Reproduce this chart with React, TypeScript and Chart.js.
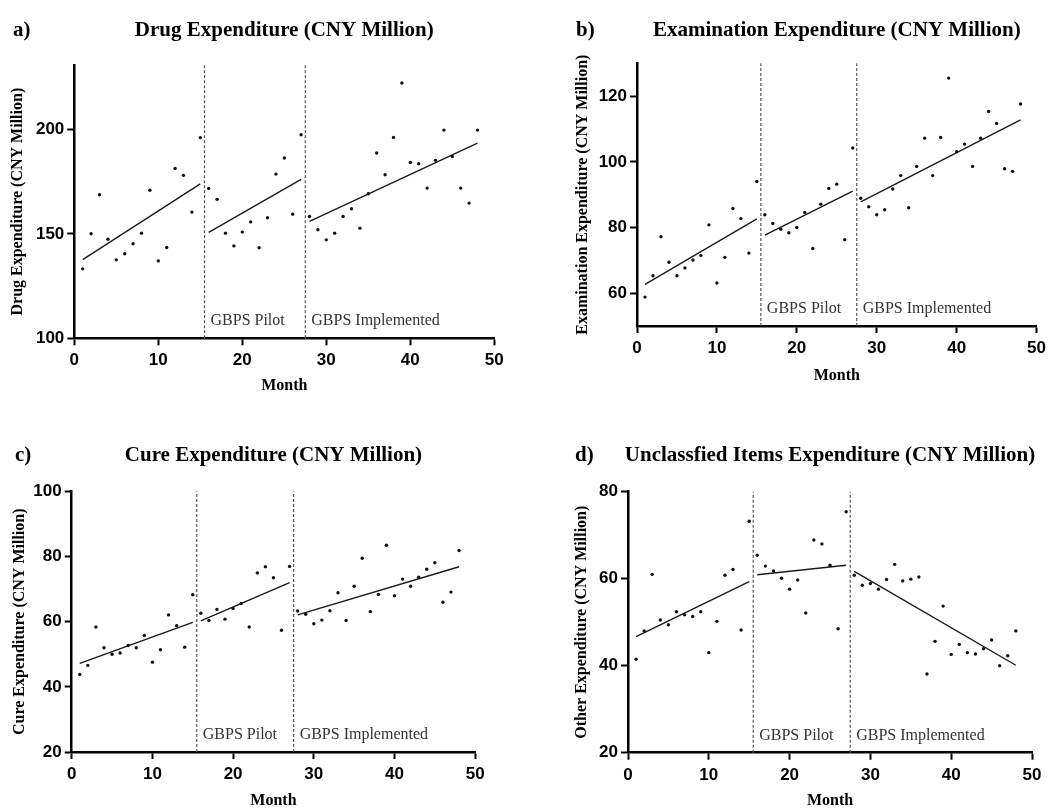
import React, { useEffect, useRef } from "react";
import { Chart, registerables } from "chart.js";

Chart.register(...registerables);

// ---------- data ----------
const months = [
  1, 2, 3, 4, 5, 6, 7, 8, 9, 10, 11, 12, 13, 14, 15, 16, 17, 18, 19, 20, 21, 22, 23, 24,
  25, 26, 27, 28, 29, 30, 31, 32, 33, 34, 35, 36, 37, 38, 39, 40, 41, 42, 43, 44, 45, 46, 47, 48,
];
const xTicks = [0, 10, 20, 30, 40, 50];
const interruptions = [15.5, 27.5];
const phaseLabels = ["GBPS Pilot", "GBPS Implemented"];
const segStartMonth = [1, 16, 28];
const segEndMonth = [15, 27, 48];

const drugValues = [
  133.3, 150.1, 168.8, 147.5, 137.6, 140.5, 145.3, 150.4, 171.0, 137.1, 143.5, 181.4, 178.1, 160.5, 196.2,
  171.8, 166.6, 150.4, 144.3, 150.9, 155.8, 143.4, 157.8, 178.7, 186.4, 159.5, 197.6,
  158.4, 152.0, 147.2, 150.4, 158.4, 162.1, 152.8, 169.3, 188.8, 178.4, 196.3, 222.4, 184.3, 183.7, 172.0,
  185.3, 199.8, 187.2, 172.0, 164.8, 199.8,
];
const drugFitStart = [137.7, 150.8, 156.0];
const drugFitEnd = [174.0, 176.2, 193.6];
const drugTicks = [100, 150, 200];

const examValues = [
  58.8, 65.3, 77.2, 69.4, 65.3, 67.7, 70.1, 71.5, 80.8, 63.1, 70.9, 85.8, 82.7, 72.2, 94.0,
  83.9, 81.2, 79.5, 78.4, 80.0, 84.6, 73.6, 87.1, 91.9, 93.2, 76.3, 104.2,
  88.9, 86.3, 83.9, 85.4, 91.7, 95.8, 86.0, 98.6, 107.2, 95.8, 107.4, 125.5, 103.1, 105.4, 98.6,
  107.2, 115.3, 111.7, 97.9, 97.1, 117.6,
];
const examFitStart = [62.7, 77.7, 87.8];
const examFitEnd = [82.6, 91.1, 112.8];
const examTicks = [60, 80, 100, 120];

const cureValues = [
  43.8, 46.6, 58.4, 52.0, 50.0, 50.4, 52.7, 52.0, 55.8, 47.6, 51.4, 62.1, 58.8, 52.2, 68.3,
  62.6, 60.4, 63.8, 60.8, 64.1, 65.6, 58.4, 75.0, 76.9, 73.5, 57.4, 77.0,
  63.3, 62.3, 59.4, 60.5, 63.4, 68.9, 60.4, 70.9, 79.5, 63.1, 68.4, 83.5, 68.0, 73.1, 70.9,
  73.7, 76.1, 78.1, 66.0, 69.1, 81.9,
];
const cureFitStart = [47.2, 60.3, 62.1];
const cureFitEnd = [59.8, 72.0, 76.9];
const cureTicks = [20, 40, 60, 80, 100];

const otherValues = [
  41.5, 48.0, 61.0, 50.5, 49.4, 52.4, 51.7, 51.3, 52.4, 43.0, 50.2, 60.8, 62.1, 48.2, 73.2,
  65.4, 62.9, 61.8, 60.1, 57.6, 59.7, 52.1, 68.9, 68.0, 63.1, 48.5, 75.4,
  60.8, 58.5, 58.9, 57.6, 59.8, 63.3, 59.5, 59.9, 60.4, 38.1, 45.6, 53.7, 42.6, 44.9, 43.0,
  42.7, 43.9, 45.9, 40.0, 42.3, 48.0,
];
const otherFitStart = [46.7, 60.9, 61.7];
const otherFitEnd = [59.3, 63.1, 40.1];
const otherTicks = [20, 40, 60, 80];

// ---------- layout ----------
type Panel = {
  letter: string;
  title: string;
  yTitle: string;
  values: number[];
  fitStart: number[];
  fitEnd: number[];
  yTicks: number[];
  yMin: number;
  yMax: number;
  box: { left: number; top: number; width: number; height: number };
  area: { left: number; top: number; right: number; bottom: number };
  yTitleX: number;
  monthY: number;
  titleBaseline: number;
  letterX: number;
};

const panels: Panel[] = [
  {
    letter: "a)",
    title: "Drug Expenditure (CNY Million)",
    yTitle: "Drug Expenditure (CNY Million)",
    values: drugValues,
    fitStart: drugFitStart,
    fitEnd: drugFitEnd,
    yTicks: drugTicks,
    yMin: 100,
    yMax: 231,
    box: { left: 0, top: 0, width: 525, height: 400 },
    area: { left: 74.3, top: 65, right: 494.3, bottom: 338.3 },
    yTitleX: 18,
    monthY: 386,
    titleBaseline: 36,
    letterX: 13,
  },
  {
    letter: "b)",
    title: "Examination Expenditure (CNY Million)",
    yTitle: "Examination Expenditure (CNY Million)",
    values: examValues,
    fitStart: examFitStart,
    fitEnd: examFitEnd,
    yTicks: examTicks,
    yMin: 50,
    yMax: 130,
    box: { left: 525, top: 0, width: 526, height: 400 },
    area: { left: 637, top: 63.3, right: 1041, bottom: 326 },
    yTitleX: 583,
    monthY: 376,
    titleBaseline: 36,
    letterX: 576,
  },
  {
    letter: "c)",
    title: "Cure Expenditure (CNY Million)",
    yTitle: "Cure Expenditure (CNY Million)",
    values: cureValues,
    fitStart: cureFitStart,
    fitEnd: cureFitEnd,
    yTicks: cureTicks,
    yMin: 20,
    yMax: 100,
    box: { left: 0, top: 400, width: 525, height: 409 },
    area: { left: 71.7, top: 491.5, right: 475.2, bottom: 752 },
    yTitleX: 20,
    monthY: 801,
    titleBaseline: 461,
    letterX: 15,
  },
  {
    letter: "d)",
    title: "Unclassfied Items Expenditure (CNY Million)",
    yTitle: "Other Expenditure (CNY Million)",
    values: otherValues,
    fitStart: otherFitStart,
    fitEnd: otherFitEnd,
    yTicks: otherTicks,
    yMin: 20,
    yMax: 80,
    box: { left: 525, top: 400, width: 526, height: 409 },
    area: { left: 628, top: 491.7, right: 1032, bottom: 752.7 },
    yTitleX: 581.7,
    monthY: 801,
    titleBaseline: 461,
    letterX: 575,
  },
];

const TITLE_LINE = 16; // axis title font size with lineHeight 1

const panelDecor = {
  id: "panelDecor",
  afterDraw(chart: any, _args: any, opts: any) {
    const ctx = chart.ctx as CanvasRenderingContext2D;
    const xs = chart.scales.x;
    const area = chart.chartArea;
    ctx.save();
    ctx.font = '16px "Liberation Serif", "Times New Roman", serif';
    ctx.fillStyle = "#333";
    ctx.textAlign = "left";
    ctx.textBaseline = "alphabetic";
    interruptions.forEach((m, i) => {
      ctx.fillText(phaseLabels[i], xs.getPixelForValue(m) + 6, area.bottom - 13);
    });
    ctx.fillStyle = "#000";
    ctx.font = 'bold 21px "Liberation Serif", "Times New Roman", serif';
    ctx.textAlign = "center";
    ctx.fillText(opts.title, (area.left + area.right) / 2, opts.baseline);
    ctx.textAlign = "left";
    ctx.fillText(opts.letter, opts.letterX, opts.baseline);
    ctx.restore();
  },
};

function PanelChart({ p }: { p: Panel }) {
  const ref = useRef<HTMLCanvasElement | null>(null);

  useEffect(() => {
    if (!ref.current) return;
    const b = p.box;
    const padLeft = Math.max(0, p.yTitleX - b.left - TITLE_LINE / 2);
    const yAxisWidth = p.area.left - b.left - padLeft;
    const padTop = p.area.top - b.top;
    const padRight = b.left + b.width - p.area.right;
    const padBottom = Math.max(0, b.top + b.height - p.monthY - TITLE_LINE / 2);
    const xAxisHeight = b.top + b.height - padBottom - p.area.bottom;

    const points = months.map((m, i) => ({ x: m, y: p.values[i] }));
    const fitSets = segStartMonth.map((s, k) => ({
      type: "scatter" as const,
      data: [
        { x: s, y: p.fitStart[k] },
        { x: segEndMonth[k], y: p.fitEnd[k] },
      ],
      showLine: true,
      borderColor: "#1a1a1a",
      borderWidth: 1.4,
      pointRadius: 0,
      pointHoverRadius: 0,
    }));
    const dashSets = interruptions.map((m) => ({
      type: "scatter" as const,
      data: [
        { x: m, y: p.yMin },
        { x: m, y: p.yMax },
      ],
      showLine: true,
      borderColor: "#555",
      borderWidth: 1.2,
      borderDash: [3, 2],
      pointRadius: 0,
      pointHoverRadius: 0,
      clip: false as any,
    }));

    const tickFont = { family: '"Liberation Sans", Arial, sans-serif', size: 17, weight: "bold" as const };
    const axisTitleFont = {
      family: '"Liberation Serif", "Times New Roman", serif',
      size: 16,
      weight: "bold" as const,
      lineHeight: 1,
    };

    const chart = new Chart(ref.current, {
      type: "scatter",
      data: {
        datasets: [
          {
            data: points,
            pointRadius: 1.7,
            pointBackgroundColor: "#111",
            pointBorderWidth: 0,
            showLine: false,
          },
          ...fitSets,
          ...dashSets,
        ] as any,
      },
      options: {
        responsive: false,
        animation: false,
        devicePixelRatio: 1,
        events: [],
        layout: { padding: { left: padLeft, top: padTop, right: padRight, bottom: padBottom } },
        plugins: {
          legend: { display: false },
          tooltip: { enabled: false },
          title: { display: false },
          panelDecor: { title: p.title, letter: p.letter, letterX: p.letterX - b.left, baseline: p.titleBaseline - b.top },
        } as any,
        scales: {
          x: {
            type: "linear",
            min: 0,
            max: 50,
            afterBuildTicks: (s: any) => {
              s.ticks = xTicks.map((v) => ({ value: v }));
            },
            afterFit: (s: any) => {
              s.height = xAxisHeight;
            },
            ticks: { color: "#000", font: tickFont, padding: 5, maxRotation: 0, autoSkip: false },
            grid: {
              display: true,
              drawOnChartArea: false,
              drawTicks: true,
              tickLength: 7,
              tickColor: "#000",
              tickWidth: 2,
              color: "#000",
            },
            border: { display: true, color: "#000", width: 2.5 },
            title: { display: true, text: "Month", color: "#000", font: axisTitleFont, padding: 0 },
          },
          y: {
            type: "linear",
            min: p.yMin,
            max: p.yMax,
            afterBuildTicks: (s: any) => {
              s.ticks = p.yTicks.map((v) => ({ value: v }));
            },
            afterFit: (s: any) => {
              s.width = yAxisWidth;
            },
            ticks: { color: "#000", font: tickFont, padding: 3, autoSkip: false },
            grid: {
              display: true,
              drawOnChartArea: false,
              drawTicks: true,
              tickLength: 7,
              tickColor: "#000",
              tickWidth: 2,
              color: "#000",
            },
            border: { display: true, color: "#000", width: 2.5 },
            title: { display: true, text: p.yTitle, color: "#000", font: axisTitleFont, padding: 0 },
          },
        },
      } as any,
      plugins: [panelDecor as any],
    });
    return () => chart.destroy();
  }, [p]);

  return (
    <canvas
      ref={ref}
      width={p.box.width}
      height={p.box.height}
      style={{
        position: "absolute",
        left: p.box.left,
        top: p.box.top,
        width: p.box.width,
        height: p.box.height,
      }}
    />
  );
}

export default function App() {
  return (
    <div
      style={{
        position: "absolute",
        left: 0,
        top: 0,
        width: 1051,
        height: 809,
        background: "#fff",
        overflow: "hidden",
      }}
    >
      {panels.map((p) => (
        <PanelChart key={p.letter} p={p} />
      ))}
    </div>
  );
}
